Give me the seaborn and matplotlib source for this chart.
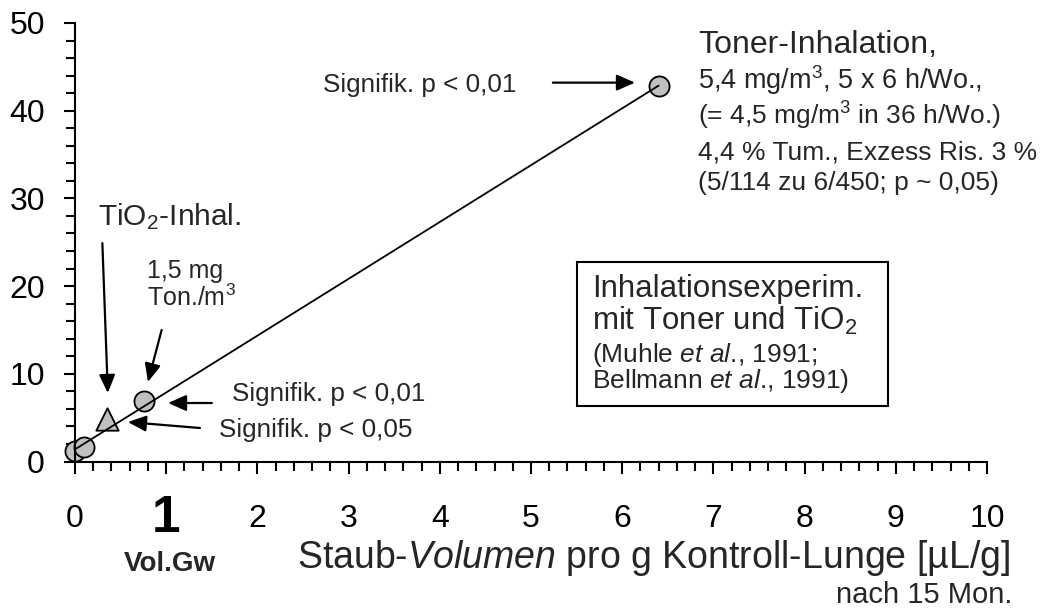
import matplotlib
matplotlib.use("Agg")
import matplotlib.pyplot as plt
import seaborn as sns
from matplotlib.ticker import MultipleLocator
from matplotlib.patches import Rectangle

# values
toner_x = [0.0, 0.1, 0.76, 6.4]
toner_y = [1.2, 1.7, 6.9, 42.8]
tio2_x = [0.35]
tio2_y = [4.8]
x_ticks = list(range(0, 11))
y_ticks = [0, 10, 20, 30, 40, 50]

sns.set_style("ticks")
plt.rcParams["font.family"] = ["Liberation Sans", "DejaVu Sans"]
plt.rcParams["mathtext.fontset"] = "custom"
plt.rcParams["mathtext.rm"] = "Liberation Sans"
plt.rcParams["mathtext.it"] = "Liberation Sans:italic"
plt.rcParams["mathtext.bf"] = "Liberation Sans:bold"
plt.rcParams["axes.linewidth"] = 1.5
plt.rcParams["axes.edgecolor"] = "black"

W, H = 1045, 610
fig = plt.figure(figsize=(W / 100, H / 100), dpi=100)
ax = fig.add_axes([75 / W, 148.5 / H, 912 / W, 438.5 / H])

grey = "#c0c0c0"
sns.scatterplot(x=toner_x, y=toner_y, s=210, color=grey, edgecolor="black",
                linewidth=1.3, marker="o", ax=ax, zorder=2, clip_on=False)
sns.scatterplot(x=tio2_x, y=tio2_y, s=260, color=grey, edgecolor="black",
                linewidth=1.3, marker="^", ax=ax, zorder=2, clip_on=False)
sns.regplot(x=toner_x, y=toner_y, scatter=False, ci=None, truncate=True, ax=ax,
            line_kws=dict(color="black", lw=1.3, zorder=3))

ax.set_xlim(0, 10)
ax.set_ylim(0, 50)
sns.despine(ax=ax)
ax.xaxis.set_minor_locator(MultipleLocator(0.2))
ax.yaxis.set_minor_locator(MultipleLocator(2))
ax.set_yticks(y_ticks)
ax.set_xticks(x_ticks)
ax.set_xticklabels([str(v) for v in x_ticks])
ax.set_yticklabels([str(v) for v in y_ticks])
ax.tick_params(which="both", direction="out", width=1.5, color="black", labelcolor="black")
ax.tick_params(axis="x", which="major", length=8.4, pad=32.7, labelsize=23)
ax.tick_params(axis="x", which="minor", length=6.5)
ax.tick_params(axis="y", which="major", length=8, pad=13.7, labelsize=23)
ax.tick_params(axis="y", which="minor", length=6.5)
for lab in ax.get_xticklabels():
    lab.set_va("center")
one = ax.get_xticklabels()[1]
one.set_fontsize(37)
one.set_fontweight("bold")

ax.set_xlabel("Staub-$\\mathit{Volumen}$ pro g Kontroll-Lunge [µL/g]",
              fontsize=27, ha="right", va="baseline")
ax.xaxis.set_label_coords((1010 - 75) / 912, (461.5 - 568) / 438.5)
fig.text(170 / W, 1 - 571 / H, "Vol.Gw", fontsize=20, fontweight="bold",
         ha="center", va="baseline")
fig.text(1012 / W, 1 - 603 / H, "nach 15 Mon.", fontsize=21, ha="right", va="baseline")

# annotations
arrow = dict(arrowstyle="-|>,head_length=0.5,head_width=0.22", color="black",
             lw=1.6, mutation_scale=22, shrinkA=0, shrinkB=0)
ax.annotate("", xy=(6.14, 43.2), xytext=(5.24, 43.2), arrowprops=arrow)
ax.annotate("", xy=(1.02, 6.67), xytext=(1.50, 6.67), arrowprops=arrow)
ax.annotate("", xy=(0.58, 4.50), xytext=(1.37, 3.82), arrowprops=arrow)
ax.annotate("", xy=(0.36, 7.81), xytext=(0.30, 24.9), arrowprops=arrow)
ax.annotate("", xy=(0.80, 9.07), xytext=(0.95, 15.0), arrowprops=arrow)

ax.text(2.72, 42.13, "Signifik. p < 0,01", fontsize=18.8, va="baseline")
ax.text(1.72, 6.9, "Signifik. p < 0,01", fontsize=18.8, va="baseline")
ax.text(1.58, 2.79, "Signifik. p < 0,05", fontsize=18.8, va="baseline")
ax.text(0.25, 26.97, "TiO$_2$-Inhal.", fontsize=21.5, va="baseline")
ax.text(0.79, 20.9, "1,5 mg", fontsize=18, va="baseline")
ax.text(0.79, 17.7, "Ton./m$^3$", fontsize=18, va="baseline")

ax.text(6.83, 46.6, "Toner-Inhalation,", fontsize=23, va="baseline", clip_on=False)
ax.text(6.83, 42.5, "5,4 mg/m$^3$, 5 x 6 h/Wo.,", fontsize=19.5, va="baseline", clip_on=False)
ax.text(6.83, 38.4, "(= 4,5 mg/m$^3$ in 36 h/Wo.)", fontsize=19, va="baseline", clip_on=False)
ax.text(6.83, 34.4, "4,4 % Tum., Exzess Ris. 3 %", fontsize=19, va="baseline", clip_on=False)
ax.text(6.83, 30.96, "(5/114 zu 6/450; p ~ 0,05)", fontsize=19, va="baseline", clip_on=False)

ax.add_patch(Rectangle((5.50, 6.33), 3.41, 16.42, fill=False, lw=1.5,
                       ec="black", clip_on=False, zorder=4))
ax.text(5.67, 18.76, "Inhalationsexperim.", fontsize=22.5, va="baseline")
ax.text(5.67, 15.0, "mit Toner und TiO$_2$", fontsize=22.5, va="baseline")
ax.text(5.67, 11.35, "(Muhle $\\mathit{et\\ al}$., 1991;", fontsize=19, va="baseline")
ax.text(5.67, 8.38, "Bellmann $\\mathit{et\\ al}$., 1991)", fontsize=19, va="baseline")

fig.savefig("out.png", dpi=100, facecolor="white")
